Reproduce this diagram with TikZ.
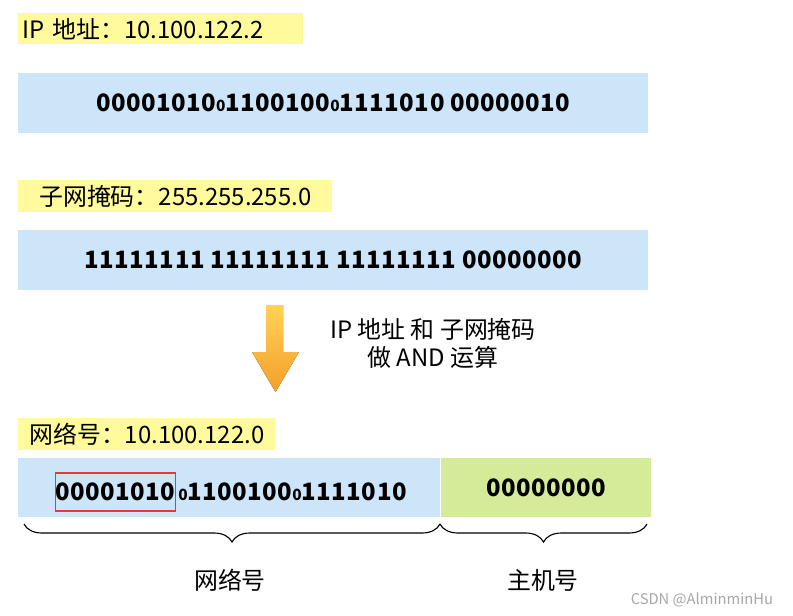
\documentclass[tikz,border=0pt]{standalone}
\usepackage{fontspec}
\setmainfont{Noto Sans CJK SC}
\newfontfamily\bitfont{Noto Sans CJK SC}[LetterSpace=2]
\usepackage{tikz}
\usetikzlibrary{positioning, decorations.pathreplacing}

\definecolor{tagyellow}{HTML}{FFFA9C}
\definecolor{bandblue}{HTML}{CCE5F8}
\definecolor{bandgreen}{HTML}{D4EB9A}
\definecolor{boxred}{HTML}{E8383D}
\definecolor{arrowtop}{HTML}{FFD257}
\definecolor{arrowbot}{HTML}{F59F2A}

\newcommand{\smallzero}{{\fontsize{11}{12}\selectfont 0}}

\tikzset{
    tag/.style={fill=tagyellow, anchor=north west, minimum height=0.75cm,
        inner xsep=0.1cm, align=center, font=\fontsize{17}{18}\selectfont},
    band/.style={fill=bandblue, anchor=north west, minimum height=1.5cm,
        font=\bitfont\bfseries\fontsize{17}{19}\selectfont},
    bits/.style={font=\bitfont\bfseries\fontsize{17}{19}\selectfont},
    brace/.style={decorate, decoration={brace, mirror, amplitude=0.45cm}, thick},
    caption/.style={font=\fontsize{17}{20}\selectfont},
}

\begin{document}
\begin{tikzpicture}[x=0.025cm, y=-0.025cm]
        \useasboundingbox (0,0) rectangle (793,616);

        % --- IP address ---
        \node[tag, text width=6.925cm, align=left] (iptag) at (18,13) {IP 地址：10.100.122.2};
        \node[band, minimum width=15.75cm] (ipband) at (18,73)
            {00001010\smallzero1100100\smallzero1111010 00000010};

        % --- subnet mask ---
        \node[tag, text width=7.65cm] (masktag) at (18,180) {子网掩码：255.255.255.0};
        \node[band, minimum width=15.75cm] (maskband) at (18,230)
            {11111111 11111111 11111111 00000000};

        % --- AND step ---
        \fill[top color=arrowtop, bottom color=arrowbot]
            (266,305) -- (283,305) -- (283,352) -- (299,352) -- (275.5,392)
            -- (252,352) -- (266,352) -- cycle;
        \node[caption, align=center] (andnote) at (433,343) {IP 地址 和 子网掩码\\做 AND 运算};

        % --- network number ---
        \node[tag, text width=6.225cm] (nettag) at (18,418) {网络号：10.100.122.0};
        \node[band, minimum width=10.55cm, minimum height=1.475cm] (netband) at (18,458) {};
        \node[band, fill=bandgreen, minimum width=5.25cm, minimum height=1.475cm,
            anchor=west] (hostband) at (netband.east) {00000000};
        \node[bits, draw=boxred, thick, minimum width=2.975cm, minimum height=0.95cm,
            inner sep=0pt] (netbyte) at (115.5,492) {00001010};
        \node[bits, right=0.05cm of netbyte, inner sep=0pt] (netrest)
            {\smallzero1100100\smallzero1111010};

        % --- braces ---
        \coordinate (netl) at (24,524);
        \coordinate (netr) at (440,524);
        \coordinate (hostr) at (647,524);
        \draw[brace] (netl) -- (netr);
        \draw[brace] (netr) -- (hostr);
        \node[caption] (netlabel) at (230,580) {网络号};
        \node[caption] (hostlabel) at (543,580) {主机号};

        \node[text=gray!70, font=\fontsize{10.5}{12}\selectfont, anchor=east] (mark)
            at (778,600) {CSDN @AlminminHu};
\end{tikzpicture}
\end{document}
